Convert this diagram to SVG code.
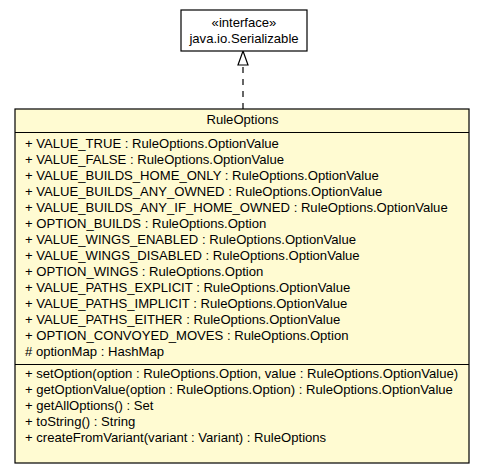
<svg xmlns="http://www.w3.org/2000/svg" width="485" height="464" viewBox="0 0 485 464">
<style>
text{font-family:"Liberation Sans",Arial,sans-serif;font-size:13.1px;fill:#000}
.c{text-anchor:middle}
.box{fill:#fffbd2;stroke:#000;stroke-width:1.2}
.ibox{fill:#fff;stroke:#000;stroke-width:1.2}
.ln{stroke:#000;stroke-width:1.2}
</style>
<g id="connectors">
<line x1="243" y1="109" x2="243" y2="65" class="ln" stroke-dasharray="6,6"/>
<path d="M243,51 L248,65 L238,65 Z" fill="#fff" stroke="#000" stroke-width="1.2"/>
</g>
<g id="Serializable">
<rect class="ibox" x="181" y="10" width="126" height="41"/>
<text class="c" x="244" y="27">«interface»</text>
<text class="c" x="244" y="43">java.io.Serializable</text>
</g>
<g id="RuleOptions">
<rect class="box" x="15" y="109" width="454" height="354"/>
<line class="ln" x1="15" y1="132.5" x2="469" y2="132.5"/>
<line class="ln" x1="15" y1="364.5" x2="469" y2="364.5"/>
<text class="c" x="242.5" y="123.5">RuleOptions</text>
<text x="25" y="148">+ VALUE_TRUE : RuleOptions.OptionValue</text>
<text x="25" y="164">+ VALUE_FALSE : RuleOptions.OptionValue</text>
<text x="25" y="180">+ VALUE_BUILDS_HOME_ONLY : RuleOptions.OptionValue</text>
<text x="25" y="196">+ VALUE_BUILDS_ANY_OWNED : RuleOptions.OptionValue</text>
<text x="25" y="212">+ VALUE_BUILDS_ANY_IF_HOME_OWNED : RuleOptions.OptionValue</text>
<text x="25" y="228">+ OPTION_BUILDS : RuleOptions.Option</text>
<text x="25" y="244">+ VALUE_WINGS_ENABLED : RuleOptions.OptionValue</text>
<text x="25" y="260">+ VALUE_WINGS_DISABLED : RuleOptions.OptionValue</text>
<text x="25" y="276">+ OPTION_WINGS : RuleOptions.Option</text>
<text x="25" y="292">+ VALUE_PATHS_EXPLICIT : RuleOptions.OptionValue</text>
<text x="25" y="308">+ VALUE_PATHS_IMPLICIT : RuleOptions.OptionValue</text>
<text x="25" y="324">+ VALUE_PATHS_EITHER : RuleOptions.OptionValue</text>
<text x="25" y="340">+ OPTION_CONVOYED_MOVES : RuleOptions.Option</text>
<text x="25" y="356"># optionMap : HashMap</text>
<text x="25" y="378">+ setOption(option : RuleOptions.Option, value : RuleOptions.OptionValue)</text>
<text x="25" y="394">+ getOptionValue(option : RuleOptions.Option) : RuleOptions.OptionValue</text>
<text x="25" y="410">+ getAllOptions() : Set</text>
<text x="25" y="426">+ toString() : String</text>
<text x="25" y="442">+ createFromVariant(variant : Variant) : RuleOptions</text>
</g>
</svg>
